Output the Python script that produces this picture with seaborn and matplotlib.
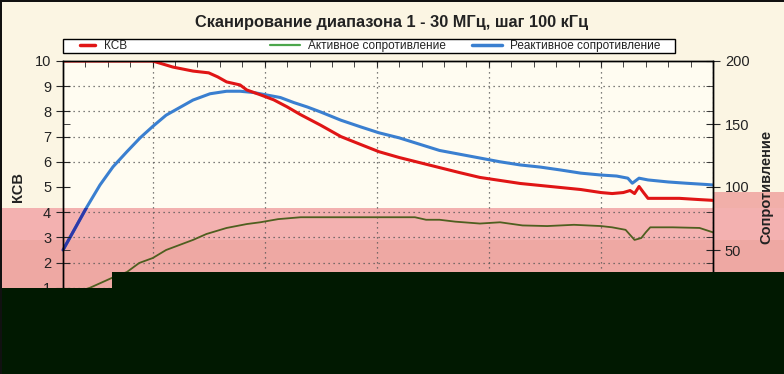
import matplotlib
matplotlib.use("Agg")
import matplotlib.pyplot as plt
from matplotlib.patches import Rectangle
from matplotlib.lines import Line2D
import pandas as pd
import seaborn as sns

# КСВ (left axis)
ksv_freq = [1, 2, 3, 4, 5, 5.3, 5.9, 6.8, 7.5, 7.9, 8.3, 8.9, 9.2, 9.8, 10.4, 11.0,
            11.6, 12.5, 13.4, 14.3, 15.1, 16.0, 16.9, 17.8, 18.7, 19.6, 20.5, 21.4,
            22.3, 23.2, 24.1, 25.0, 25.5, 26.0, 26.3, 26.5, 26.7, 26.9, 27.1, 27.6,
            28.5, 29.4, 30.0]
ksv_vals = [10, 10, 10, 10, 10, 9.92, 9.76, 9.6, 9.53, 9.37, 9.17, 9.05, 8.85, 8.66,
            8.46, 8.18, 7.87, 7.45, 7.0, 6.68, 6.40, 6.17, 5.97, 5.77, 5.57, 5.38,
            5.26, 5.14, 5.06, 4.98, 4.90, 4.78, 4.74, 4.78, 4.86, 4.74, 5.02, 4.78,
            4.55, 4.55, 4.55, 4.50, 4.47]

# Реактивное сопротивление (right axis)
react_freq = [1.0, 1.5, 2.06, 2.65, 3.23, 3.85, 4.44, 5.0, 5.6, 6.2, 6.8, 7.56, 8.3,
              8.9, 9.5, 10.1, 10.7, 11.3, 11.9, 12.5, 13.4, 14.3, 15.1, 16.0, 16.9,
              17.8, 18.7, 19.6, 20.5, 21.4, 22.3, 23.2, 24.1, 25.0, 25.7, 26.2, 26.4,
              26.7, 27.1, 28.0, 28.8, 29.7, 30.0]
react_vals = [50, 66, 84, 101.6, 116, 128, 139, 148, 157, 163, 169, 174, 176, 176,
              175, 173, 171, 167, 163.5, 159.5, 153, 147.6, 143, 139, 134, 129, 126,
              123, 120, 117.5, 115.8, 113.5, 111, 109.5, 108.7, 107, 103, 107, 105.6,
              104, 103, 102, 101.6]

# Активное сопротивление (right axis)
act_freq = [1.0, 1.5, 2.2, 3.2, 3.85, 4.4, 5.0, 5.6, 6.2, 6.8, 7.4, 8.3, 9.2, 9.8,
            10.6, 11.6, 13.8, 15.5, 16.7, 17.2, 17.8, 18.5, 19.6, 20.5, 21.5, 22.6,
            23.8, 25.0, 25.5, 26.1, 26.5, 26.8, 27.0, 27.2, 28.2, 29.4, 30.0]
act_vals = [12, 16, 20, 28, 32.5, 39.7, 43.6, 50, 54, 58, 62.7, 67.5, 70.6, 72, 74.5,
            76, 76, 76, 76, 74, 74, 72.5, 71, 72, 69.5, 69, 70, 69, 68, 66, 58, 59.5,
            64, 68, 68, 67.5, 64]

legend_labels = ["КСВ", "Активное сопротивление", "Реактивное сопротивление"]
legend_colors = ["#E01515", "#4CA64C", "#3A7FD0"]
title = "Сканирование диапазона 1 - 30 МГц, шаг 100 кГц"

ksv = pd.DataFrame({"f": ksv_freq, "v": ksv_vals})
react = pd.DataFrame({"f": react_freq, "v": react_vals})
act = pd.DataFrame({"f": act_freq, "v": act_vals})

sns.set_style("white")
plt.rcParams["font.family"] = ["Liberation Sans Narrow", "Liberation Sans", "DejaVu Sans"]

W, H = 784, 374
fig, ax = plt.subplots(figsize=(W / 100, H / 100), dpi=100)
fig.patch.set_facecolor("#FBF5E3")
fig.subplots_adjust(left=63 / W, right=713 / W, top=1 - 61 / H, bottom=1 - 313 / H)


def frect(x0, y0, x1, y1, color, z):
    # rectangle given in pixels from the top-left corner
    r = Rectangle((x0 / W, 1 - y1 / H), (x1 - x0) / W, (y1 - y0) / H,
                  transform=fig.transFigure, facecolor=color, edgecolor="none", zorder=z)
    fig.patches.append(r)
    return r


# plot area background and the pink band
frect(63, 61, 713, 313, "#FFFCF1", -2)
frect(0, 208, W, 240, "#F3B1B0", -1)
frect(0, 240, W, 272, "#EEA8A3", -1)
frect(0, 272, 112, 288, "#EEA8A3", -1)
frect(713, 192, W, 208, "#F1AFA9", -1)

ax2 = ax.twinx()
ax.set_zorder(ax2.get_zorder() + 1)
ax.patch.set_visible(False)
ax2.patch.set_visible(False)

sns.lineplot(data=act, x="f", y="v", ax=ax2, color="#4E5F1F", linewidth=1.3)
sns.lineplot(data=react, x="f", y="v", ax=ax2, color="#3A7FD0", linewidth=2.2)
# part of the blue line inside the band looks darker
sns.lineplot(data=react, x="f", y="v", ax=ax2, color="#2D38A8", linewidth=2.2)
band = Rectangle((0, 1 - 272 / H), 1, 64 / H, transform=fig.transFigure)
ax2.lines[-1].set_clip_path(band)
sns.lineplot(data=ksv, x="f", y="v", ax=ax, color="#E01515", linewidth=2.2)

ax.set_xlim(1, 30)
ax.set_ylim(0, 10)
ax2.set_ylim(0, 200)
ax.set_xticks([5, 10, 15, 20, 25, 30])
ax.set_xticks(range(1, 31), minor=True)
ax.set_yticks(range(0, 11))
ax.set_yticks([2.5, 5, 7.5], minor=True)
ax2.set_yticks([0, 50, 100, 150, 200])
ax2.set_yticks(range(0, 201, 20), minor=True)

grid_style = dict(color="#555555", linestyle=(0, (1, 3)), linewidth=0.9)
ax2.xaxis.set_visible(True)
ax2.tick_params(axis="x", bottom=False, top=False, labelbottom=False, labeltop=False)
ax2.grid(axis="x", which="major", **grid_style)
ax2.grid(axis="y", which="minor", **grid_style)

ax.tick_params(axis="y", which="major", direction="inout", length=10, labelsize=10.5,
               labelcolor="#222222")
ax.tick_params(axis="y", which="minor", direction="in", length=5)
ax2.tick_params(axis="y", which="major", direction="inout", length=10, labelsize=10.5,
                labelcolor="#222222")
ax2.tick_params(axis="y", which="minor", direction="in", length=5)
ax.tick_params(axis="x", which="both", top=True, direction="in", length=4, labelsize=10.5)

for a in (ax, ax2):
    for s in a.spines.values():
        s.set_color("black")
        s.set_linewidth(1)

ax.set_xlabel("Частота, МГц", fontsize=10.5, fontweight="bold", labelpad=10)
ax.set_ylabel("")
ax2.set_ylabel("")
fig.text(0.023, 0.5, "КСВ", rotation=90, ha="center", va="center",
         fontsize=10.5, fontweight="bold", color="#222222")
fig.text(0.977, 0.5, "Сопротивление", rotation=90, ha="center", va="center",
         fontsize=10.5, fontweight="bold", color="#222222")
fig.text(0.5, 1 - 22 / H, title, ha="center", va="center", fontsize=11.8,
         fontweight="bold", color="#222222")

# legend: one frame with three fixed-width columns
ax_h = 313 - 61
ax_w = 713 - 63
frame = Rectangle((0, (313 - 53) / ax_h), (675 - 63) / ax_w, 14 / ax_h,
                  transform=ax.transAxes, facecolor="white", edgecolor="black",
                  linewidth=1, clip_on=False, zorder=4)
ax.add_patch(frame)
col_px = [80, 270, 472]
handle_len = [1.3, 2.5, 2.5]
handle_lw = [2.5, 1.6, 2.5]
for lab, col, px, hl, lw in zip(legend_labels, legend_colors, col_px, handle_len, handle_lw):
    leg = ax.legend([Line2D([], [], color=col, lw=lw)], [lab], loc="center left",
                    bbox_to_anchor=((px - 63) / ax_w, (313 - 46) / ax_h),
                    borderaxespad=0, borderpad=0, fontsize=8.5, frameon=False,
                    handlelength=hl, handletextpad=0.7, labelcolor="#222222")
    leg.set_zorder(5)
    ax.add_artist(leg)
ax.legend_ = None

# dark block over the lower part of the picture
frect(112, 272, W, 290, "#011901", 10)
frect(0, 288, W, H, "#011901", 10)

# thin dark frame round the picture
frect(0, 0, W, 1.5, "#111111", 11)
frect(0, 0, 1.5, H, "#111111", 11)

fig.savefig("out.png", dpi=100, facecolor=fig.get_facecolor())
